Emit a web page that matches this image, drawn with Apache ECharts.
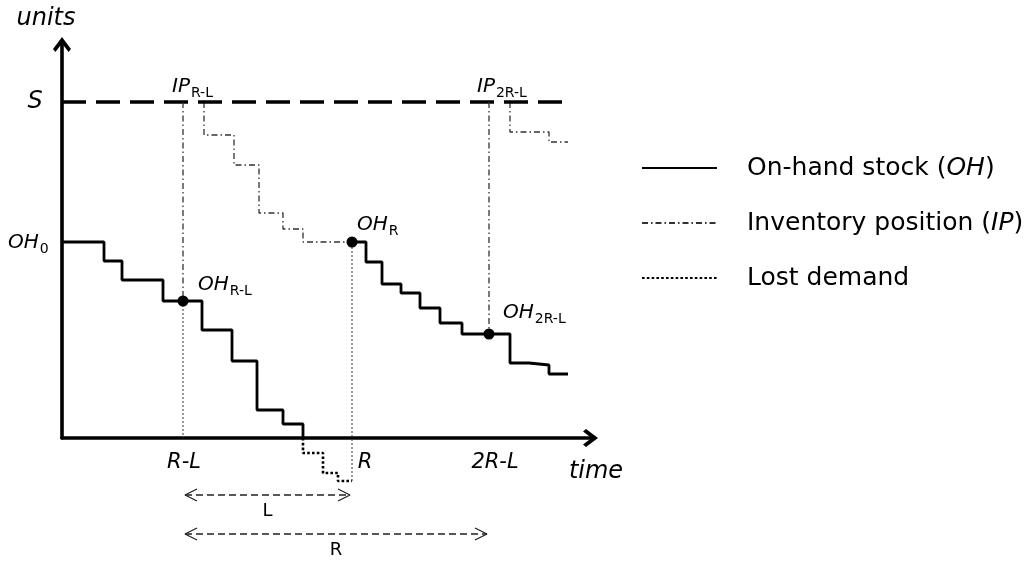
<!DOCTYPE html>
<html><head><meta charset="utf-8">
<script src="https://cdn.jsdelivr.net/npm/echarts@6/dist/echarts.min.js"></script>
<style>html,body{margin:0;padding:0;background:#fff}#c{width:1029px;height:563px}</style>
</head><body><div id="c"></div>
<script>
const FONT = 'DejaVu Sans, Verdana, sans-serif';

// ---- data (time units, stock units) ----
const onHandCycle1 = [[0,196],[42,177],[60,158],[101,137],[140,108],[170,77],[195,28],[221,14],[241,0]];
const onHandCycle2 = [[290,196],[304,176],[320,154],[339,145],[358,130],[378,115],[400,104],[448,75],[467,73],[487,64],[506,64]];
const inventoryPos1 = [[142,336],[172,303],[197,273],[221,225],[241,209],[290,196]];
const inventoryPos2 = [[448,336],[487,306],[506,296]];
const lostDemand = [[241,0],[261,-15],[276,-35],[290,-43]];
const orderUpTo = 336;          // S
const orderUpToEnd = 510;
const reviewTimes = [121, 290, 427];
const tickLabels = ['R-L', 'R', '2R-L'];
const keyLevels = [137, 196, 104];   // OH at R-L, R, 2R-L
const keyNames = ['R-L', 'R', '2R-L'];
const spans = [{name:'L', from:121, to:290}, {name:'R', from:121, to:427}];

// ---- layout (not data) ----
const tickLabelShift = [1, 13, 6];
const tickLabelY = -25;
const spanRowY = [-57, -96];
const spanLabelDy = -16;
const keyLabelOffset = [[15,16],[5,17],[14,21]];

const black = '#000';
const gray = '#333';

const arrowPath = 'path://M9,0 L18,12 L15.6,15 L9,6.5 L2.4,15 L0,12 Z';

const series = [];
const lineBase = {type:'line', symbol:'none', clip:false, silent:true, animation:false};

series.push(Object.assign({}, lineBase, {name:'On-hand stock', step:'end', data:onHandCycle1, lineStyle:{color:black, width:2.8}, itemStyle:{color:black}, z:5}));
series.push(Object.assign({}, lineBase, {name:'On-hand stock', step:'end', data:onHandCycle2, lineStyle:{color:black, width:2.8}, itemStyle:{color:black}, z:5}));
const ipStyle = {color:gray, width:1.3, type:[6,3,1.5,3]};
series.push(Object.assign({}, lineBase, {name:'Inventory position', step:'start', data:inventoryPos1, lineStyle:ipStyle, itemStyle:{color:gray}}));
series.push(Object.assign({}, lineBase, {name:'Inventory position', step:'start', data:inventoryPos2, lineStyle:ipStyle, itemStyle:{color:gray}}));
series.push(Object.assign({}, lineBase, {name:'Lost demand', step:'start', data:lostDemand, lineStyle:{color:black, width:2.6, type:[2.6,2.2]}, itemStyle:{color:black}}));

// S line
series.push(Object.assign({}, lineBase, {name:'S', data:[[0,orderUpTo],[orderUpToEnd,orderUpTo]], lineStyle:{color:black, width:3.5, type:[24,10]}}));
// IP drops at review moments (R-L and 2R-L) from S to OH
series.push(Object.assign({}, lineBase, {name:'ipv1', data:[[reviewTimes[0],orderUpTo],[reviewTimes[0],keyLevels[0]]], lineStyle:ipStyle}));
series.push(Object.assign({}, lineBase, {name:'ipv2', data:[[reviewTimes[2],orderUpTo],[reviewTimes[2],keyLevels[2]]], lineStyle:ipStyle}));
// dotted guides
const guideStyle = {color:gray, width:1, type:[2,2]};
series.push(Object.assign({}, lineBase, {name:'g1', data:[[reviewTimes[0],keyLevels[0]],[reviewTimes[0],0]], lineStyle:guideStyle}));
series.push(Object.assign({}, lineBase, {name:'g2', data:[[reviewTimes[1],lostDemand[lostDemand.length-1][1]],[reviewTimes[1],keyLevels[1]]], lineStyle:guideStyle}));

// key points
series.push({type:'scatter', name:'pts', silent:true, animation:false, clip:false, symbolSize:11, z:6,
  itemStyle:{color:black, opacity:1},
  data: reviewTimes.map((t,i)=>[t, keyLevels[i]])});

// span arrows
spans.forEach((s, i) => {
  const y = spanRowY[i];
  const a = s.from + 2, b = s.to - 2;
  const st = {color:'#222', width:1.3};
  series.push(Object.assign({}, lineBase, {name:'span'+i, data:[[a,y],[b,y]], lineStyle:Object.assign({type:[7,4]}, st)}));
  series.push(Object.assign({}, lineBase, {name:'ah'+i, data:[[a+12,y+6],[a,y],[a+12,y-6]], lineStyle:st}));
  series.push(Object.assign({}, lineBase, {name:'bh'+i, data:[[b-12,y+6],[b,y],[b-12,y-6]], lineStyle:st}));
});

// text labels
const rich = {
  i:{fontFamily:FONT, fontStyle:'italic', fontSize:20, color:black},
  s:{fontFamily:FONT, fontSize:14, color:black, padding:[13,0,0,1]},
  b:{fontFamily:FONT, fontStyle:'italic', fontSize:24, color:black},
  t:{fontFamily:FONT, fontStyle:'italic', fontSize:21, color:black},
  n:{fontFamily:FONT, fontSize:18, color:black}
};
const labelData = [];
const addLabel = (x, y, text, pos) => labelData.push({value:[x,y], label:{show:true, formatter:text, position:pos, distance:0, color:black, rich}});
addLabel(110, 351, '{i|IP}{s|R-L}', 'right');
addLabel(415, 351, '{i|IP}{s|2R-L}', 'right');
reviewTimes.forEach((t,i) => addLabel(t + keyLabelOffset[i][0], keyLevels[i] + keyLabelOffset[i][1], '{i|OH}{s|' + keyNames[i] + '}', 'right'));
addLabel(-54, onHandCycle1[0][1] - 1, '{i|OH}{s|0}', 'right');
addLabel(-27, orderUpTo, '{b|S}', 'inside');
addLabel(-16, 419, '{b|units}', 'inside');
addLabel(534, -34, '{b|time}', 'inside');
reviewTimes.forEach((t,i) => addLabel(t + tickLabelShift[i], tickLabelY, '{t|' + tickLabels[i] + '}', 'inside'));
spans.forEach((s,i) => addLabel((s.from + s.to)/2, spanRowY[i] + spanLabelDy, '{n|' + s.name + '}', 'inside'));
series.push({type:'scatter', name:'labels', silent:true, animation:false, clip:false, symbolSize:0,
  itemStyle:{opacity:1}, data:labelData, z:10});

const option = {
  animation:false,
  backgroundColor:'#fff',
  grid:{left:62, right:438.5, top:44.5, bottom:125},
  xAxis:{type:'value', min:0, max:528.5, splitLine:{show:false}, axisTick:{show:false}, axisLabel:{show:false},
    axisLine:{show:true, onZero:true, symbol:['none', arrowPath], symbolSize:[18,15], lineStyle:{color:black, width:3.6}}},
  yAxis:{type:'value', min:0, max:393.5, splitLine:{show:false}, axisTick:{show:false}, axisLabel:{show:false},
    axisLine:{show:true, onZero:false, symbol:['none', arrowPath], symbolSize:[18,15], lineStyle:{color:black, width:3.6}}},
  legend:{
    orient:'vertical', left:636, top:148, itemWidth:75, itemHeight:14, itemGap:25,
    selectedMode:false,
    itemStyle:{opacity:0},
    data:['On-hand stock','Inventory position','Lost demand'],
    formatter: n => n === 'On-hand stock' ? 'On-hand stock ({it|OH})' : (n === 'Inventory position' ? 'Inventory position ({it|IP})' : 'Lost demand'),
    textStyle:{fontFamily:FONT, fontSize:25, color:black, lineHeight:30, padding:[0,0,0,25],
      rich:{it:{fontFamily:FONT, fontStyle:'italic', fontSize:25, color:black, lineHeight:30}}}
  },
  series
};
const chart = echarts.init(document.getElementById('c'), null, {renderer:'canvas'});
chart.setOption(option);
</script></body></html>
